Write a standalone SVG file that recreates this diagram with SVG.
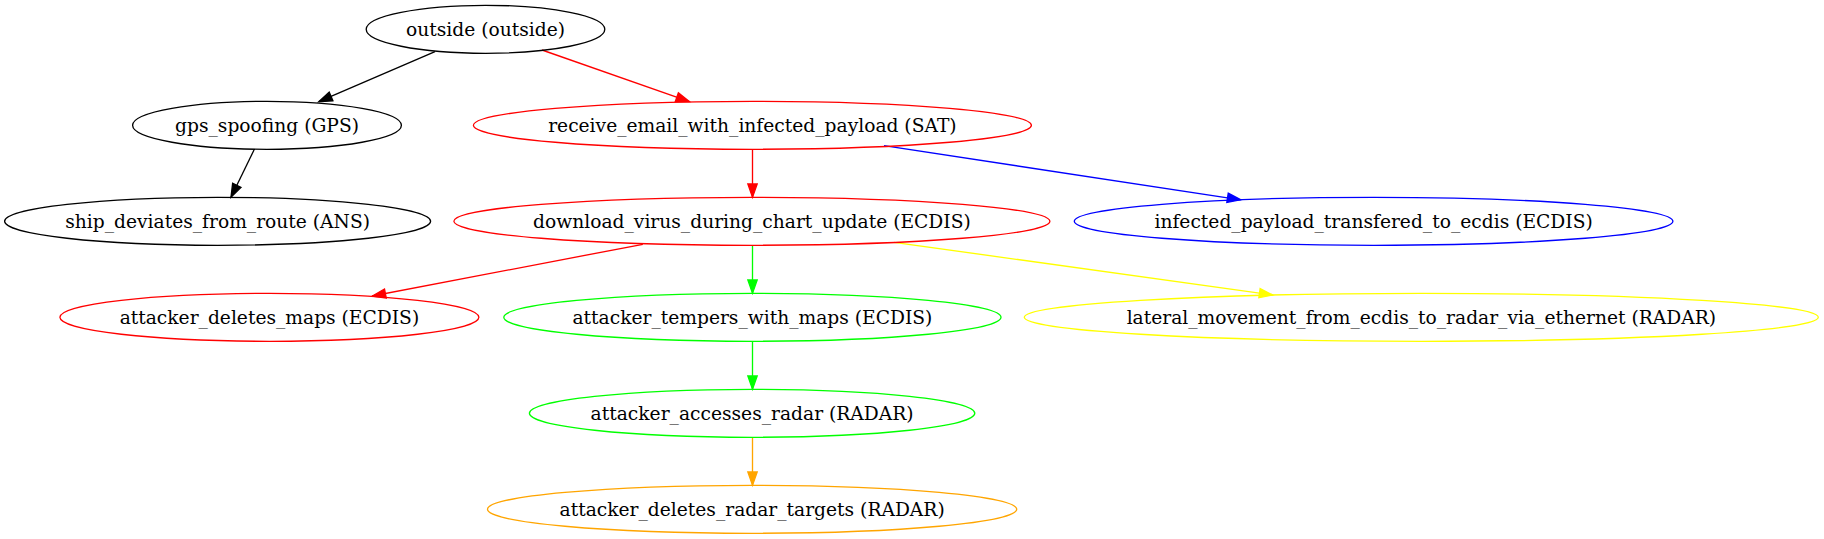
<svg xmlns="http://www.w3.org/2000/svg" width="1824" height="539" viewBox="0 0 1824 539">
<style>
  .n ellipse { fill: none; stroke-width: 1.33; }
  .n text { font-family: "DejaVu Serif", serif; font-size: 18.67px; text-anchor: middle; fill: #000; }
  .e line { stroke-width: 1.33; fill: none; }
</style>
<defs>
  <marker id="ak" markerUnits="userSpaceOnUse" markerWidth="16" markerHeight="12" refX="13.33" refY="4.67" orient="auto" overflow="visible"><path d="M0,0 L13.33,4.67 L0,9.33 Z" fill="#000" stroke="#000" stroke-width="1.33"/></marker>
  <marker id="ar" markerUnits="userSpaceOnUse" markerWidth="16" markerHeight="12" refX="13.33" refY="4.67" orient="auto" overflow="visible"><path d="M0,0 L13.33,4.67 L0,9.33 Z" fill="#ff0000" stroke="#ff0000" stroke-width="1.33"/></marker>
  <marker id="ab" markerUnits="userSpaceOnUse" markerWidth="16" markerHeight="12" refX="13.33" refY="4.67" orient="auto" overflow="visible"><path d="M0,0 L13.33,4.67 L0,9.33 Z" fill="#0000ff" stroke="#0000ff" stroke-width="1.33"/></marker>
  <marker id="ag" markerUnits="userSpaceOnUse" markerWidth="16" markerHeight="12" refX="13.33" refY="4.67" orient="auto" overflow="visible"><path d="M0,0 L13.33,4.67 L0,9.33 Z" fill="#00ff00" stroke="#00ff00" stroke-width="1.33"/></marker>
  <marker id="ay" markerUnits="userSpaceOnUse" markerWidth="16" markerHeight="12" refX="13.33" refY="4.67" orient="auto" overflow="visible"><path d="M0,0 L13.33,4.67 L0,9.33 Z" fill="#ffff00" stroke="#ffff00" stroke-width="1.33"/></marker>
  <marker id="ao" markerUnits="userSpaceOnUse" markerWidth="16" markerHeight="12" refX="13.33" refY="4.67" orient="auto" overflow="visible"><path d="M0,0 L13.33,4.67 L0,9.33 Z" fill="#ffa500" stroke="#ffa500" stroke-width="1.33"/></marker>
</defs>
<rect x="0" y="0" width="1824" height="539" fill="#fff"/>
<g id="edges" class="e">
  <line x1="435" y1="51.7" x2="318.8" y2="101.7" stroke="#000" marker-end="url(#ak)"/>
  <line x1="542" y1="50" x2="689.4" y2="101.7" stroke="#ff0000" marker-end="url(#ar)"/>
  <line x1="254" y1="150" x2="231" y2="197.3" stroke="#000" marker-end="url(#ak)"/>
  <line x1="752.5" y1="149.3" x2="752.5" y2="197.3" stroke="#ff0000" marker-end="url(#ar)"/>
  <line x1="884" y1="145.7" x2="1240.7" y2="199.8" stroke="#0000ff" marker-end="url(#ab)"/>
  <line x1="642.8" y1="244.3" x2="372.3" y2="296" stroke="#ff0000" marker-end="url(#ar)"/>
  <line x1="752.5" y1="245.3" x2="752.5" y2="293.3" stroke="#00ff00" marker-end="url(#ag)"/>
  <line x1="894" y1="242.3" x2="1272.7" y2="295" stroke="#ffff00" marker-end="url(#ay)"/>
  <line x1="752.5" y1="341.3" x2="752.5" y2="389.3" stroke="#00ff00" marker-end="url(#ag)"/>
  <line x1="752.5" y1="437.3" x2="752.5" y2="485.3" stroke="#ffa500" marker-end="url(#ao)"/>
</g>
<g id="outside" class="n"><ellipse cx="485.5" cy="29.3" rx="119.3" ry="24" stroke="#000"/><text x="485.5" y="35.6">outside (outside)</text></g>
<g id="gps_spoofing" class="n"><ellipse cx="267" cy="125.3" rx="134.4" ry="24" stroke="#000"/><text x="267" y="131.6">gps_spoofing (GPS)</text></g>
<g id="receive_email" class="n"><ellipse cx="752.4" cy="125.3" rx="279" ry="24" stroke="#ff0000"/><text x="752.4" y="131.6">receive_email_with_infected_payload (SAT)</text></g>
<g id="ship_deviates" class="n"><ellipse cx="217.6" cy="221.3" rx="213" ry="24" stroke="#000"/><text x="217.6" y="227.6">ship_deviates_from_route (ANS)</text></g>
<g id="download_virus" class="n"><ellipse cx="751.9" cy="221.3" rx="298" ry="24" stroke="#ff0000"/><text x="751.9" y="227.6">download_virus_during_chart_update (ECDIS)</text></g>
<g id="infected_payload" class="n"><ellipse cx="1373.6" cy="221.3" rx="299.3" ry="24" stroke="#0000ff"/><text x="1373.6" y="227.6">infected_payload_transfered_to_ecdis (ECDIS)</text></g>
<g id="attacker_deletes_maps" class="n"><ellipse cx="269.4" cy="317.3" rx="209.5" ry="24" stroke="#ff0000"/><text x="269.4" y="323.6">attacker_deletes_maps (ECDIS)</text></g>
<g id="attacker_tempers" class="n"><ellipse cx="752.4" cy="317.3" rx="248.6" ry="24" stroke="#00ff00"/><text x="752.4" y="323.6">attacker_tempers_with_maps (ECDIS)</text></g>
<g id="lateral_movement" class="n"><ellipse cx="1421.3" cy="317.3" rx="397" ry="24" stroke="#ffff00"/><text x="1421.3" y="323.6">lateral_movement_from_ecdis_to_radar_via_ethernet (RADAR)</text></g>
<g id="attacker_accesses_radar" class="n"><ellipse cx="752.1" cy="413.3" rx="222.7" ry="24" stroke="#00ff00"/><text x="752.1" y="419.6">attacker_accesses_radar (RADAR)</text></g>
<g id="attacker_deletes_radar_targets" class="n"><ellipse cx="752.1" cy="509.3" rx="264.6" ry="24" stroke="#ffa500"/><text x="752.1" y="515.6">attacker_deletes_radar_targets (RADAR)</text></g>
</svg>
